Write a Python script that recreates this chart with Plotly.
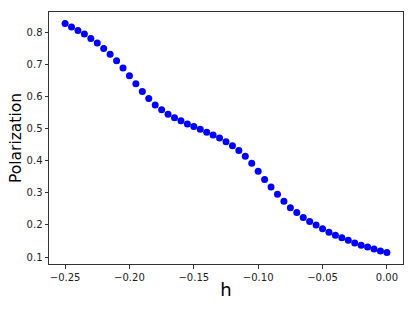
import plotly.graph_objects as go

h = [-0.25, -0.245, -0.24, -0.235, -0.23, -0.225, -0.22, -0.215, -0.21, -0.205,
     -0.2, -0.195, -0.19, -0.185, -0.18, -0.175, -0.17, -0.165, -0.16, -0.155,
     -0.15, -0.145, -0.14, -0.135, -0.13, -0.125, -0.12, -0.115, -0.11, -0.105,
     -0.1, -0.095, -0.09, -0.085, -0.08, -0.075, -0.07, -0.065, -0.06, -0.055,
     -0.05, -0.045, -0.04, -0.035, -0.03, -0.025, -0.02, -0.015, -0.01, -0.005, 0.0]
polarization = [0.828, 0.817, 0.806, 0.795, 0.781, 0.767, 0.750, 0.732, 0.712, 0.689,
                0.665, 0.640, 0.616, 0.594, 0.574, 0.559, 0.545, 0.534, 0.525, 0.515,
                0.507, 0.498, 0.489, 0.480, 0.471, 0.459, 0.447, 0.432, 0.414, 0.392,
                0.367, 0.342, 0.318, 0.296, 0.274, 0.254, 0.239, 0.223, 0.211, 0.200,
                0.188, 0.177, 0.168, 0.160, 0.152, 0.144, 0.137, 0.131, 0.125, 0.119, 0.114]

x_ticks = [-0.25, -0.20, -0.15, -0.10, -0.05, 0.00]
x_tick_labels = ["\u22120.25", "\u22120.20", "\u22120.15", "\u22120.10", "\u22120.05", "0.00"]
y_ticks = [0.1, 0.2, 0.3, 0.4, 0.5, 0.6, 0.7, 0.8]
y_tick_labels = ["0.1", "0.2", "0.3", "0.4", "0.5", "0.6", "0.7", "0.8"]

fig = go.Figure(go.Scatter(
    x=h, y=polarization, mode="markers",
    marker=dict(color="#0000ff", size=7, line=dict(width=0)),
))

axis_common = dict(
    showgrid=False, zeroline=False, showline=True, linecolor="#333333", linewidth=1,
    mirror=True, ticks="outside", ticklen=3.5, tickwidth=1, tickcolor="#333333",
    tickfont=dict(family="DejaVu Sans", size=10, color="#222222"),
    automargin=False,
)

fig.update_layout(
    width=415, height=311,
    margin=dict(l=49, r=12, t=12, b=47),
    paper_bgcolor="white", plot_bgcolor="white",
    showlegend=False,
    font=dict(family="DejaVu Sans", color="#000000"),
    xaxis=dict(range=[-0.2625, 0.0125], tickvals=x_ticks, ticktext=x_tick_labels,
               title=dict(text="h", font=dict(size=18, family="DejaVu Sans"), standoff=1),
               **axis_common),
    yaxis=dict(range=[0.0783, 0.8637], tickvals=y_ticks, ticktext=y_tick_labels,
               title=dict(text="Polarization", font=dict(size=15.5, family="DejaVu Sans"), standoff=1),
               **axis_common),
)

fig.write_html("out.html", config={"displayModeBar": False},
               post_script="document.body.style.margin='0';document.body.style.overflow='hidden';")
